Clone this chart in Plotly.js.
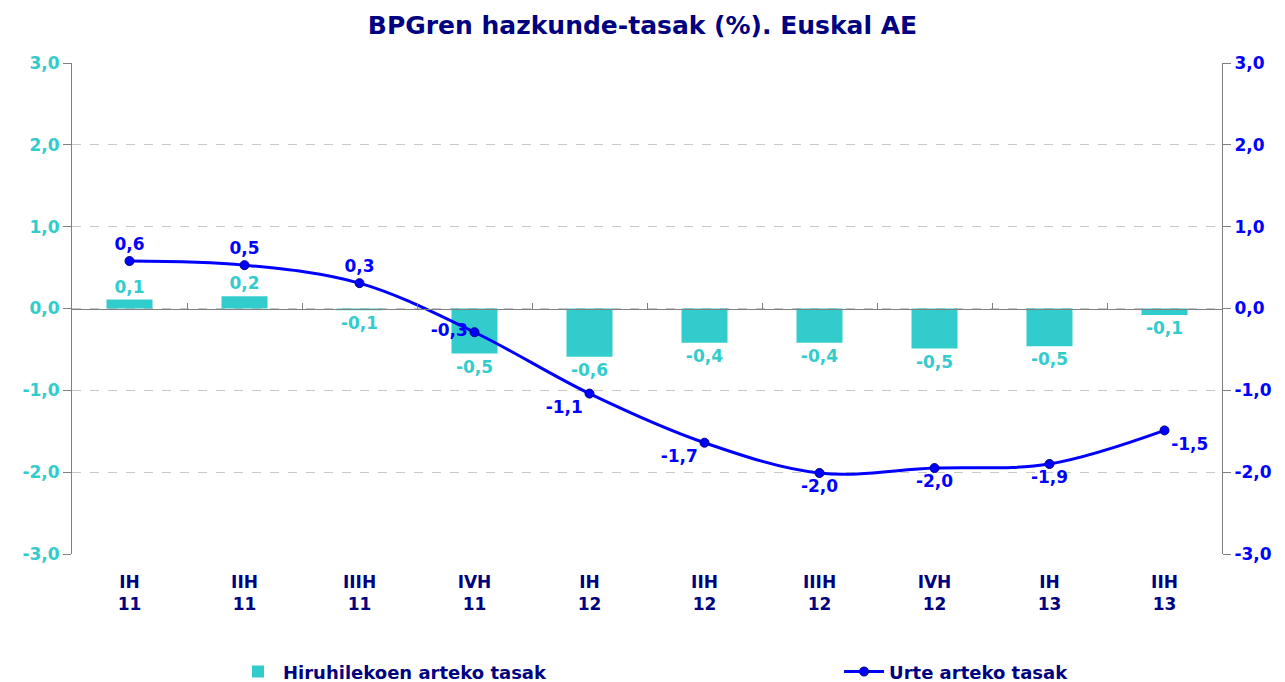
<!DOCTYPE html>
<html><head><meta charset="utf-8">
<script src="https://cdn.plot.ly/plotly-3.0.1.min.js"></script>
<style>html,body{margin:0;padding:0;background:#fff}</style>
</head><body>
<div id="chart" style="width:1285px;height:682px"></div>
<script>
const categories = ['IH<br>11','IIH<br>11','IIIH<br>11','IVH<br>11','IH<br>12','IIH<br>12','IIIH<br>12','IVH<br>12','IH<br>13','IIH<br>13'];
const quarterlyRates = [0.11, 0.15, -0.02, -0.55, -0.59, -0.42, -0.42, -0.49, -0.46, -0.08];
const quarterlyLabels = ['0,1','0,2','-0,1','-0,5','-0,6','-0,4','-0,4','-0,5','-0,5','-0,1'];
const annualRates = [0.58, 0.53, 0.31, -0.29, -1.04, -1.64, -2.01, -1.95, -1.90, -1.49];
const annualLabels = ['0,6','0,5','0,3','-0,3','-1,1','-1,7','-2,0','-2,0','-1,9','-1,5'];
const annualLabelPos = ['top center','top center','top center','middle left','bottom left','bottom left','bottom center','bottom center','bottom center','bottom right'];
const yTickValues = [-3, -2, -1, 0, 1, 2, 3];
const yTickLabels = ['-3,0', '-2,0', '-1,0', '0,0', '1,0', '2,0', '3,0'];

const FONT = 'DejaVu Sans, Verdana, sans-serif';
const NAVY = '#000080';
const CYAN = '#33CCCC';
const BLUE = '#0000FF';

const traces = [
  {
    type: 'bar', name: 'Hiruhilekoen arteko tasak', legend: 'legend',
    x: categories, y: quarterlyRates, text: quarterlyLabels,
    textposition: 'outside', cliponaxis: false,
    textfont: {family: FONT, size: 17, color: CYAN, weight: 'bold'},
    marker: {color: CYAN}, width: 0.4, hoverinfo: 'skip',
    xaxis: 'x', yaxis: 'y'
  },
  {
    type: 'scatter', mode: 'lines+markers+text', name: 'Urte arteko tasak', legend: 'legend2',
    x: categories, y: annualRates, text: annualLabels, textposition: annualLabelPos,
    textfont: {family: FONT, size: 17, color: BLUE, weight: 'bold'},
    line: {color: BLUE, width: 3, shape: 'spline', smoothing: 1},
    marker: {color: BLUE, size: 9, line: {color: NAVY, width: 1}},
    cliponaxis: false, hoverinfo: 'skip',
    xaxis: 'x', yaxis: 'y2'
  },
  {
    type: 'scatter', mode: 'lines', x: categories, y: categories.map(() => null),
    showlegend: false, hoverinfo: 'skip', xaxis: 'x2', yaxis: 'y'
  }
];

const legendFont = {family: FONT, size: 18, color: NAVY, weight: 'bold'};

const layout = {
  width: 1285, height: 682,
  margin: {l: 72, r: 63, t: 63, b: 128, autoexpand: false},
  paper_bgcolor: '#fff', plot_bgcolor: '#fff',
  separators: ',.',
  font: {family: FONT, color: NAVY},
  title: {text: '<b>BPGren hazkunde-tasak (%). Euskal AE</b>', x: 0.5, xanchor: 'center', y: 0.963, yanchor: 'middle',
          font: {family: FONT, size: 25, color: NAVY}},
  xaxis: {
    type: 'category', categoryorder: 'array', categoryarray: categories,
    range: [-0.5, 9.5], showline: false, ticks: '', showgrid: false, zeroline: false,
    tickfont: {family: FONT, size: 17, color: NAVY, weight: 'bold'},
    ticklabelstandoff: 16
  },
  xaxis2: {
    type: 'category', categoryorder: 'array', categoryarray: categories,
    overlaying: 'x', anchor: 'free', position: 0.5, range: [-0.5, 9.5],
    showline: true, linecolor: '#808080', linewidth: 1,
    tickson: 'boundaries', ticks: 'inside', ticklen: 6, tickcolor: '#808080',
    showticklabels: false, showgrid: false, zeroline: false
  },
  yaxis: {
    range: [-3, 3], tickmode: 'array', tickvals: yTickValues, ticktext: yTickLabels,
    showline: true, linecolor: '#808080', linewidth: 1,
    ticks: 'outside', ticklen: 8, tickcolor: '#808080',
    showgrid: true, gridcolor: '#C8C8C8', griddash: 'dash', gridwidth: 1,
    zeroline: false,
    tickfont: {family: FONT, size: 17, color: CYAN, weight: 'bold'}
  },
  yaxis2: {
    range: [-3, 3], tickmode: 'array', tickvals: yTickValues, ticktext: yTickLabels,
    overlaying: 'y', side: 'right',
    showline: true, linecolor: '#808080', linewidth: 1,
    ticks: 'outside', ticklen: 8, tickcolor: '#808080',
    showgrid: false, zeroline: false,
    tickfont: {family: FONT, size: 17, color: BLUE, weight: 'bold'}
  },
  showlegend: true,
  legend: {
    orientation: 'h', x: 0.140, xanchor: 'left', y: -0.240, yanchor: 'middle',
    font: legendFont, bgcolor: 'rgba(0,0,0,0)', itemwidth: 40
  },
  legend2: {
    orientation: 'h', x: 0.667, xanchor: 'left', y: -0.240, yanchor: 'middle',
    font: legendFont, bgcolor: 'rgba(0,0,0,0)', itemwidth: 40
  }
};

Plotly.newPlot('chart', traces, layout, {displayModeBar: false, staticPlot: true});
</script>
</body></html>
